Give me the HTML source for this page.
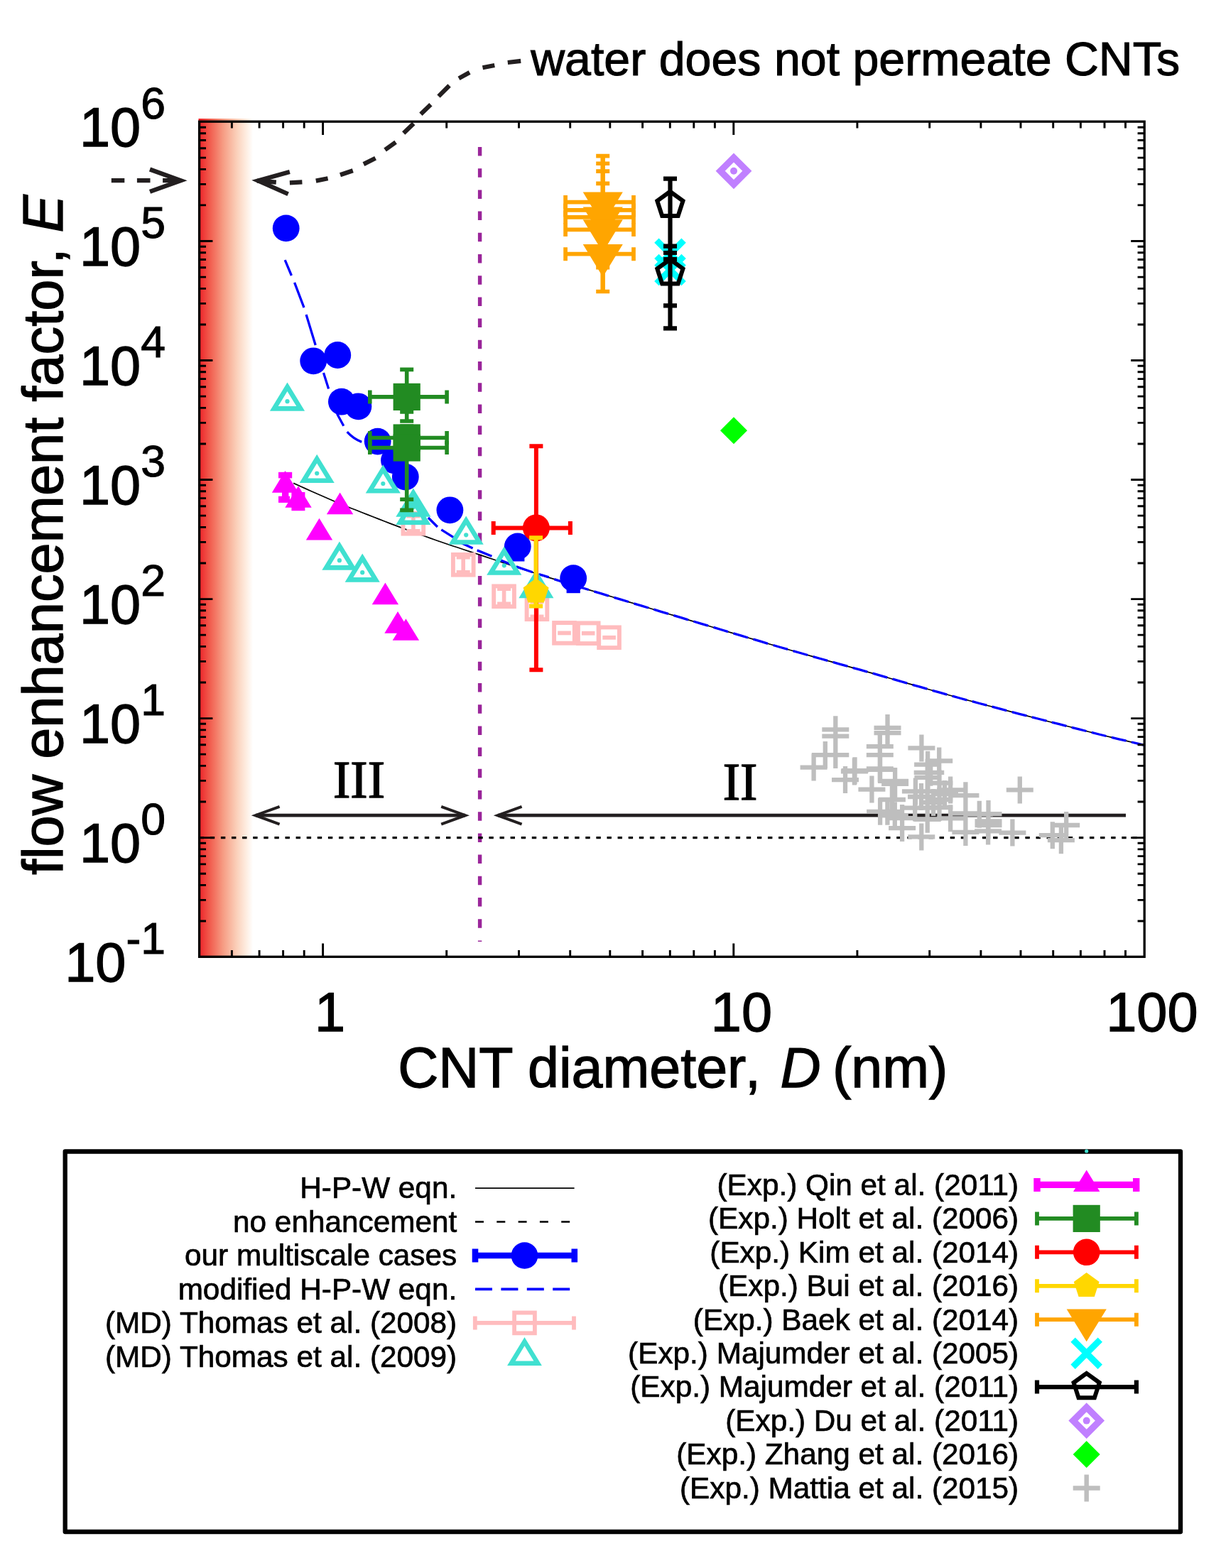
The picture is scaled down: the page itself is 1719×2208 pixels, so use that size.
<!DOCTYPE html>
<html lang="en">
<head>
<meta charset="utf-8">
<title>Flow enhancement factor vs CNT diameter</title>
<style>
html,body{margin:0;padding:0;background:#fff;}
body{width:1719px;height:2208px;overflow:hidden;}
svg{display:block;}
.sans{font-family:"Liberation Sans",sans-serif;}
.serif{font-family:"Liberation Serif",serif;}
</style>
</head>
<body>
<svg width="1719" height="2208" viewBox="0 0 1719 2208">
<defs>
<linearGradient id="rg" x1="0" y1="0" x2="1" y2="0"><stop offset="0" stop-color="#ed1f27"/><stop offset="0.2" stop-color="#f15a4c"/><stop offset="0.45" stop-color="#f69c83"/><stop offset="0.7" stop-color="#fbd0ba"/><stop offset="0.88" stop-color="#feeee2"/><stop offset="1" stop-color="#ffffff"/></linearGradient>
</defs>
<rect x="0" y="0" width="1719" height="2208" fill="#ffffff"/>
<rect x="279.5" y="167" width="76.7" height="1181.3" fill="url(#rg)"/>
<g id="regions">
<line x1="360" y1="1148.2" x2="655" y2="1148.2" stroke="#231f20" stroke-width="4.8"/>
<path d="M393.6 1135.8 L359.6 1148.2 L393.6 1160.7" fill="none" stroke="#231f20" stroke-width="4" stroke-linejoin="miter" stroke-miterlimit="10"/>
<path d="M621.2 1135.8 L655.2 1148.2 L621.2 1160.7" fill="none" stroke="#231f20" stroke-width="4" stroke-linejoin="miter" stroke-miterlimit="10"/>
<line x1="701" y1="1148.2" x2="1585" y2="1148.2" stroke="#231f20" stroke-width="4.8"/>
<path d="M734.6 1135.8 L700.6 1148.2 L734.6 1160.7" fill="none" stroke="#231f20" stroke-width="4" stroke-linejoin="miter" stroke-miterlimit="10"/>
<text x="505.5" y="1122.6" text-anchor="middle" class="serif" font-size="73" fill="#000" stroke="#000" stroke-width="1.3">III</text>
<text x="1042" y="1125.7" text-anchor="middle" class="serif" font-size="73" fill="#000" stroke="#000" stroke-width="1.3">II</text>
</g>
<line x1="675.6" y1="207" x2="675.6" y2="1326" stroke="#9a259a" stroke-width="5.4" stroke-dasharray="12.5 17.7"/>
<polyline points="413.2,680.4 421.2,684 429.2,687.6 437.2,691.2 445.2,694.8 453.2,698.3 461.2,701.8 469.2,705.3 477.2,708.7 485.2,711.9 493.2,715.2 501.2,718.3 509.2,721.5 517.2,724.6 525.2,727.8 533.2,730.9 541.2,734 549.2,737.1 557.2,740.1 565.2,743.1 573.2,746.1 581.2,749 589.2,751.9 597.2,754.7 605.2,757.6 613.2,760.5 621.2,763.3 629.2,766 637.2,768.7 645.2,771.3 653.2,774 661.2,776.6 669.2,779.3 677.2,781.9 685.2,784.6 693.2,787.3 701.2,790 709.2,792.7 717.2,795.3 725.2,798 733.2,800.6 741.2,803.2 749.2,805.8 757.2,808.4 765.2,810.9 773.2,813.4 781.2,815.9 789.2,818.4 797.2,820.8 805.2,823.3 813.2,825.7 821.2,828.2 829.2,830.6 837.2,833 845.2,835.5 853.2,837.9 861.2,840.3 869.2,842.8 877.2,845.2 885.2,847.6 893.2,850 901.2,852.4 909.2,854.8 917.2,857.3 925.2,859.7 933.2,862.1 941.2,864.5 949.2,866.9 957.2,869.3 965.2,871.7 973.2,874.1 981.2,876.5 989.2,878.9 997.2,881.3 1005.2,883.7 1013.2,886.1 1021.2,888.5 1029.2,890.9 1037.2,893.3 1045.2,895.6 1053.2,898 1061.2,900.4 1069.2,902.8 1077.2,905.1 1085.2,907.5 1093.2,909.8 1101.2,912.1 1109.2,914.5 1117.2,916.8 1125.2,919.1 1133.2,921.3 1141.2,923.6 1149.2,925.9 1157.2,928.1 1165.2,930.4 1173.2,932.6 1181.2,934.9 1189.2,937.1 1197.2,939.4 1205.2,941.6 1213.2,943.9 1221.2,946.1 1229.2,948.4 1237.2,950.6 1245.2,952.9 1253.2,955.2 1261.2,957.5 1269.2,959.8 1277.2,962.1 1285.2,964.4 1293.2,966.7 1301.2,969 1309.2,971.3 1317.2,973.5 1325.2,975.8 1333.2,978 1341.2,980.3 1349.2,982.5 1357.2,984.6 1365.2,986.8 1373.2,988.9 1381.2,991.1 1389.2,993.2 1397.2,995.3 1405.2,997.4 1413.2,999.5 1421.2,1001.6 1429.2,1003.7 1437.2,1005.8 1445.2,1007.9 1453.2,1010 1461.2,1012 1469.2,1014.1 1477.2,1016.2 1485.2,1018.2 1493.2,1020.3 1501.2,1022.3 1509.2,1024.3 1517.2,1026.4 1525.2,1028.4 1533.2,1030.5 1541.2,1032.5 1549.2,1034.5 1557.2,1036.5 1565.2,1038.4 1573.2,1040.3 1581.2,1042.2 1589.2,1044.1 1597.2,1046 1605.2,1047.9 1611,1049.3" fill="none" stroke="#000" stroke-width="1.7"/>
<line x1="280.6" y1="1179.6" x2="1611" y2="1179.6" stroke="#000" stroke-width="3.2" stroke-dasharray="6.4 8.7" stroke-dashoffset="-0.1"/>
<g id="multiscale" fill="#0000ff">
<circle cx="402.7" cy="321.4" r="18.9"/>
<circle cx="441.2" cy="508.3" r="18.9"/>
<circle cx="475.3" cy="500" r="18.9"/>
<circle cx="480.9" cy="565.7" r="18.9"/>
<circle cx="504.4" cy="572.3" r="18.9"/>
<circle cx="531.7" cy="621.6" r="18.9"/>
<circle cx="555" cy="648.3" r="18.9"/>
<circle cx="570.8" cy="671.6" r="18.9"/>
<circle cx="633.4" cy="718.3" r="18.9"/>
<rect x="719.2" y="781.9" width="19.2" height="8.6" />
<circle cx="728.8" cy="769.5" r="18.9"/>
<rect x="797.6" y="826.6" width="19.2" height="8.6" />
<circle cx="807.2" cy="814.2" r="18.9"/>
</g>
<path d="M401.2 366.1 L410.4 388 M414.6 397.9 L428 433.2 M431.1 443.1 L444.2 486.1 M455.5 525 L462.6 547.5 M474.6 582.8 L483.8 599.8 M488.7 608.2 Q497.5 618 509.2 622.4" fill="none" stroke="#0000ff" stroke-width="3.3"/>
<path d="M602.9 729L615.9 742M621.3 745.9L639.6 757.3M650.3 765L665.6 771.9M671.7 774.9L692.4 783.3M702.3 787.9L717.6 794M726.8 797.9L749.7 805.7M758.9 808.6L772.7 812.9M780.3 815.6L790.6 818.8L800.9 822M808.3 824.2L818.6 827.4L828.9 830.5M836.3 832.8L846.6 835.9L856.9 839.1M864.4 841.3L874.7 844.4L885 847.5M892.4 849.8L902.7 852.9L913 856M920.4 858.2L930.7 861.3L941 864.4M948.4 866.6L958.7 869.7L969 872.8M976.4 875L986.7 878.1L997 881.2M1004.5 883.4L1014.8 886.5L1025.1 889.6M1032.5 891.8L1042.8 894.9L1053.1 898M1060.5 900.2L1070.8 903.2L1081.1 906.3M1088.5 908.5L1098.8 911.5L1109.1 914.4M1116.5 916.6L1126.8 919.5L1137.1 922.5M1144.6 924.6L1154.9 927.5L1165.2 930.4M1172.6 932.4L1182.9 935.3L1193.2 938.2M1200.6 940.3L1210.9 943.2L1221.2 946.1M1228.6 948.2L1238.9 951.1L1249.2 954.1M1256.6 956.2L1266.9 959.2L1277.2 962.1M1284.7 964.3L1295 967.2L1305.3 970.2M1312.7 972.3L1323 975.2L1333.3 978.1M1340.7 980.1L1351 983L1361.3 985.8M1368.7 987.7L1379 990.5L1389.3 993.2M1396.7 995.2L1407 997.9L1417.3 1000.6M1424.8 1002.6L1435.1 1005.3L1445.4 1007.9M1452.8 1009.9L1463.1 1012.5L1473.4 1015.2M1480.8 1017.1L1491.1 1019.7L1501.4 1022.4M1508.8 1024.3L1519.1 1026.9L1529.4 1029.5M1536.8 1031.4L1547.1 1034L1557.4 1036.5M1564.9 1038.3L1575.2 1040.8L1585.5 1043.2M1592.9 1045L1601.9 1047.1L1611 1049.3" fill="none" stroke="#0000ff" stroke-width="3.3"/>
<g id="thomas2008" stroke="#ffbcbe" fill="none" stroke-width="5.9">
<path d="M581.9 726.7 V747.7 M572.4 726.7 H591.4 M572.4 747.7 H591.4" stroke-width="5.6"/>
<rect x="567.5" y="722.9" width="28.7" height="28.7"/>
<path d="M652.2 784.7 V805.7 M642.7 784.7 H661.7 M642.7 805.7 H661.7" stroke-width="5.6"/>
<rect x="637.9" y="780.9" width="28.7" height="28.7"/>
<path d="M709.6 829.2 V850.2 M700.1 829.2 H719.1 M700.1 850.2 H719.1" stroke-width="5.6"/>
<rect x="695.2" y="825.4" width="28.7" height="28.7"/>
<path d="M756 847.3 V868.3 M746.5 847.3 H765.5 M746.5 868.3 H765.5" stroke-width="5.6"/>
<rect x="741.6" y="843.4" width="28.7" height="28.7"/>
<path d="M785.2 891.4 H803.8" stroke-width="5.8"/>
<rect x="780.1" y="877" width="28.7" height="28.7"/>
<path d="M818.9 891.7 H837.5" stroke-width="5.8"/>
<rect x="813.9" y="877.4" width="28.7" height="28.7"/>
<path d="M848.3 897.8 H866.9" stroke-width="5.8"/>
<rect x="843.2" y="883.4" width="28.7" height="28.7"/>
</g>
<g id="thomas2009" stroke="#40e0d0" fill="none" stroke-width="6.6" stroke-linejoin="miter">
<polygon points="404.5,544.8 423.2,575.4 385.8,575.4"/>
<circle cx="404.5" cy="565.2" r="3.1" fill="#40e0d0" stroke="none"/>
<polygon points="446.2,646.1 464.9,676.7 427.5,676.7"/>
<circle cx="446.2" cy="666.5" r="3.1" fill="#40e0d0" stroke="none"/>
<polygon points="539.3,660.6 558,691.2 520.6,691.2"/>
<circle cx="539.3" cy="681" r="3.1" fill="#40e0d0" stroke="none"/>
<polygon points="581.9,693.9 600.6,724.5 563.2,724.5"/>
<circle cx="581.9" cy="714.3" r="3.1" fill="#40e0d0" stroke="none"/>
<polygon points="581.9,705.2 600.6,735.8 563.2,735.8"/>
<circle cx="581.9" cy="725.6" r="3.1" fill="#40e0d0" stroke="none"/>
<polygon points="656.2,732.9 674.9,763.5 637.5,763.5"/>
<circle cx="656.2" cy="753.3" r="3.1" fill="#40e0d0" stroke="none"/>
<polygon points="477.9,768.8 496.6,799.4 459.2,799.4"/>
<circle cx="477.9" cy="789.2" r="3.1" fill="#40e0d0" stroke="none"/>
<polygon points="510.2,785.8 528.9,816.4 491.5,816.4"/>
<circle cx="510.2" cy="806.2" r="3.1" fill="#40e0d0" stroke="none"/>
<polygon points="709.8,775.9 728.5,806.5 691.1,806.5"/>
<circle cx="709.8" cy="796.3" r="3.1" fill="#40e0d0" stroke="none"/>
<polygon points="754.9,808.3 773.6,838.9 736.2,838.9"/>
<circle cx="754.9" cy="828.7" r="3.1" fill="#40e0d0" stroke="none"/>
</g>
<g id="qin" fill="#ff00ff">
<rect x="392" y="664.8" width="19.2" height="8.6"/>
<rect x="397" y="669" width="9.4" height="34"/>
<rect x="392" y="698.7" width="16" height="9.2"/>
<rect x="410.4" y="693" width="19" height="9.2"/>
<rect x="415.2" y="697" width="9.4" height="18"/>
<rect x="410.4" y="710" width="19" height="9.2"/>
<polygon points="401.5,663.1 420.2,693.7 382.8,693.7"/>
<polygon points="420,684.2 438.7,714.8 401.3,714.8"/>
<polygon points="478.6,693.6 497.3,724.2 459.9,724.2"/>
<polygon points="449.5,729.8 468.2,760.4 430.8,760.4"/>
<polygon points="542.4,820.6 561.1,851.2 523.7,851.2"/>
<polygon points="560,861.1 578.7,891.7 541.3,891.7"/>
<polygon points="571.4,871.2 590.1,901.8 552.7,901.8"/>
</g>
<g id="holt">
<path d="M520.8 558.9 H629.1 M520.8 549.4 V568.4 M629.1 549.4 V568.4" stroke="#228b22" stroke-width="5.6" fill="none"/>
<path d="M520.8 616.5 H629.1 M520.8 607 V626 M629.1 607 V626" stroke="#228b22" stroke-width="5.6" fill="none"/>
<path d="M520.8 630.5 H629.1 M520.8 621 V640 M629.1 621 V640" stroke="#228b22" stroke-width="5.6" fill="none"/>
<path d="M572.7 520.4 V593 M563.2 520.4 H582.2 M563.2 593 H582.2 M563.2 580 H582.2" stroke="#228b22" stroke-width="5.6" fill="none"/>
<path d="M572.7 600 V718.4 M563.2 600 H582.2 M563.2 718.4 H582.2 M563.2 703.2 H582.2" stroke="#228b22" stroke-width="5.6" fill="none"/>
<rect x="553.6" y="539.8" width="38.2" height="38.2" fill="#228b22"/>
<rect x="553.6" y="597.4" width="38.2" height="38.2" fill="#228b22"/>
<rect x="553.6" y="611.4" width="38.2" height="38.2" fill="#228b22"/>
</g>
<g id="kim">
<path d="M694.7 743.4 H802.9 M694.7 733.9 V752.9 M802.9 733.9 V752.9" stroke="#ff0000" stroke-width="6" fill="none"/>
<path d="M754.9 628.3 V943.3 M745.4 628.3 H764.4 M745.4 943.3 H764.4" stroke="#ff0000" stroke-width="6" fill="none"/>
<circle cx="754.9" cy="743.4" r="19" fill="#ff0000"/>
</g>
<g id="bui">
<polygon points="754.6,814.3 772.6,827.4 765.7,848.5 743.5,848.5 736.6,827.4" fill="#ffd700"/>
<path d="M754.6 757.3 V853.5 M745.1 757.3 H764.1 M745.1 853.5 H764.1" stroke="#ffd700" stroke-width="6" fill="none"/>
</g>
<g id="baek">
<path d="M796.1 284.6 H892 M796.1 275.1 V294.1 M892 275.1 V294.1" stroke="#ffa500" stroke-width="5.7" fill="none"/>
<path d="M796.1 295.9 H892 M796.1 286.4 V305.4 M892 286.4 V305.4" stroke="#ffa500" stroke-width="5.7" fill="none"/>
<path d="M796.1 305.9 H892 M796.1 296.4 V315.4 M892 296.4 V315.4" stroke="#ffa500" stroke-width="5.7" fill="none"/>
<path d="M796.1 323.4 H892 M796.1 313.9 V332.9 M892 313.9 V332.9" stroke="#ffa500" stroke-width="5.7" fill="none"/>
<path d="M796.1 357.7 H892 M796.1 348.2 V367.2 M892 348.2 V367.2" stroke="#ffa500" stroke-width="5.7" fill="none"/>
<path d="M848.7 219.6 V410.5 M839.2 219.6 H858.2 M839.2 410.5 H858.2 M839.2 230.2 H858.2 M839.2 241.1 H858.2 M839.2 258.4 H858.2 M839.2 376.7 H858.2" stroke="#ffa500" stroke-width="5.6" fill="none"/>
<line x1="848.7" y1="219.6" x2="848.7" y2="410.5" stroke="#ffa500" stroke-width="6.4"/>
<polygon points="830,285.7 867.4,285.7 848.7,316.3" fill="#ffa500"/>
<polygon points="820.7,270.5 876.8,270.5 848.7,316.4" fill="#ffa500"/>
<polygon points="820.7,291.6 876.8,291.6 848.7,337.5" fill="#ffa500"/>
<polygon points="820.7,309.3 876.8,309.3 848.7,355.2" fill="#ffa500"/>
<polygon points="820.7,344 876.8,344 848.7,389.9" fill="#ffa500"/>
</g>
<g id="maj2005" stroke="#00ffff" stroke-width="9" fill="none">
<path d="M924.4 338.6 L962.6 376.8 M924.4 376.8 L962.6 338.6"/>
<path d="M924.4 360.9 L962.6 399.1 M924.4 399.1 L962.6 360.9"/>
</g>
<g id="maj2011">
<path d="M943.5 251.6 V462.4 M934 251.6 H953 M934 462.4 H953 M934 346.6 H953 M934 356 H953 M934 365 H953 M934 430.4 H953" stroke="#000" stroke-width="6.2" fill="none"/>
<polygon points="943.4,269.7 961.5,282.8 954.6,304.1 932.2,304.1 925.3,282.8" fill="none" stroke="#000" stroke-width="6" stroke-linejoin="miter"/>
<polygon points="943.4,365.2 961.5,378.3 954.6,399.6 932.2,399.6 925.3,378.3" fill="none" stroke="#000" stroke-width="6" stroke-linejoin="miter"/>
</g>
<g id="du">
<polygon points="1033,222 1051.8,240.8 1033,259.6 1014.2,240.8" fill="none" stroke="#c080ff" stroke-width="9.3"/>
<circle cx="1033" cy="240.8" r="5" fill="#c080ff"/>
</g>
<polygon id="zhang" points="1033,587.3 1052,606.3 1033,625.3 1014,606.3" fill="#00ff00"/>
<g id="mattia" stroke="#bebebe" stroke-width="6.3" fill="none">
<path d="M1157.3 1027.3h38M1176.3 1008.3v38M1157.3 1036.6h38M1176.3 1017.6v38M1142.8 1063.1h38M1161.8 1044.1v38M1157.3 1063.1h38M1176.3 1044.1v38M1126.6 1080.6h38M1145.6 1061.6v38M1230.5 1024.9h38M1249.5 1005.9v38M1230.5 1032.1h38M1249.5 1013.1v38M1219.8 1051.1h38M1238.8 1032.1v38M1219.8 1063.1h38M1238.8 1044.1v38M1219.8 1082.5h38M1238.8 1063.5v38M1183.9 1086.4h38M1202.9 1067.4v38M1184.5 1085.2h38M1203.5 1066.2v38M1171 1098.1h38M1190 1079.1v38M1208.4 1111.6h38M1227.4 1092.6v38M1241.1 1100h38M1260.1 1081v38M1241.1 1103.9h38M1260.1 1084.9v38M1278.4 1053.4h38M1297.4 1034.4v38M1287.1 1076.7h38M1306.1 1057.7v38M1303.2 1071.5h38M1322.2 1052.5v38M1416.8 1112.4h38M1435.8 1093.4v38M1406.4 1172.6h38M1425.4 1153.6v38M1372.5 1146.1h38M1391.5 1127.1v38M1359.8 1146.7h38M1378.8 1127.7v38M1372.1 1170.4h38M1391.1 1151.4v38M1372.5 1156.4h38M1391.5 1137.4v38M1372.5 1162.2h38M1391.5 1143.2v38M1340.4 1120.2h38M1359.4 1101.2v38M1340.4 1171.9h38M1359.4 1152.9v38M1340.4 1145.4h38M1359.4 1126.4v38M1319.1 1112.4h38M1338.1 1093.4v38M1319.1 1152.3h38M1338.1 1133.3v38M1278.3 1178.4h38M1297.3 1159.4v38M1251.1 1166.1h38M1270.1 1147.1v38M1251.1 1152.1h38M1270.1 1133.1v38M1240.8 1148.4h38M1259.8 1129.4v38M1236.9 1126h38M1255.9 1107v38M1230.4 1142.8h38M1249.4 1123.8v38M1220.1 1083.9h38M1239.1 1064.9v38M1220.1 1142.8h38M1239.1 1123.8v38M1286.7 1087.8h38M1305.7 1068.8v38M1291.2 1087.8h38M1310.2 1068.8v38M1287.4 1094.9h38M1306.4 1075.9v38M1303.5 1102.7h38M1322.5 1083.7v38M1269.9 1114.4h38M1288.9 1095.4v38M1286.7 1114.4h38M1305.7 1095.4v38M1295.1 1129.9h38M1314.1 1110.9v38M1303.5 1126h38M1322.5 1107v38M1286.7 1137.6h38M1305.7 1118.6v38M1269.2 1137.6h38M1288.2 1118.6v38M1286.7 1153.8h38M1305.7 1134.8v38M1303.5 1137h38M1322.5 1118v38M1278 1122h38M1297 1103v38M1311 1118h38M1330 1099v38M1482.2 1162h38M1501.2 1143v38M1462.8 1176.2h38M1481.8 1157.2v38M1474.9 1183.2h38M1493.9 1164.2v38"/>
</g>
<g id="annot" fill="none" stroke="#231f20">
<path d="M733.2 85.9L714.8 88M696.3 92L679.5 95.3M661.1 102L646 110.4M632.6 120.5L617.5 135.6M606.4 147.3L592.4 160.7M582.3 174.1L568.2 187.6M557.1 200.3L542.1 211M528.6 222.8L511.9 231.1M496.8 240.2L479 246.2M461.6 251.3L444.8 254.6M425.4 256.3L407.9 257.3M388.8 256.7L362 254.6" stroke-width="6.2"/>
</g>
<path d="M406.9 238.1 L363.4 253.8 L406.9 269.5" fill="none" stroke="#231f20" stroke-width="6.2" stroke-linejoin="miter" stroke-miterlimit="10" transform="rotate(4.1 354.3 253.8)"/>
<path d="M156.8 254.1 H175.3 M192.9 254.1 H211.5 M229.1 254.1 H250" stroke="#231f20" stroke-width="6.2" fill="none"/>
<path d="M211 238.5 L254.5 254.2 L211 269.9" fill="none" stroke="#231f20" stroke-width="6.2" stroke-linejoin="miter" stroke-miterlimit="10"/>
<g id="axes" stroke="#000" fill="none">
<path d="M326.4 171.2v9.4M326.4 1347.3v-9.4M365.1 171.2v9.4M365.1 1347.3v-9.4M398.6 171.2v9.4M398.6 1347.3v-9.4M428.2 171.2v9.4M428.2 1347.3v-9.4M454.6 171.2v18.8M454.6 1347.3v-18.8M628.7 171.2v9.4M628.7 1347.3v-9.4M730.5 171.2v9.4M730.5 1347.3v-9.4M802.7 171.2v9.4M802.7 1347.3v-9.4M858.8 171.2v9.4M858.8 1347.3v-9.4M904.6 171.2v9.4M904.6 1347.3v-9.4M943.3 171.2v9.4M943.3 1347.3v-9.4M976.8 171.2v9.4M976.8 1347.3v-9.4M1006.4 171.2v9.4M1006.4 1347.3v-9.4M1032.8 171.2v18.8M1032.8 1347.3v-18.8M1206.9 171.2v9.4M1206.9 1347.3v-9.4M1308.7 171.2v9.4M1308.7 1347.3v-9.4M1380.9 171.2v9.4M1380.9 1347.3v-9.4M1437 171.2v9.4M1437 1347.3v-9.4M1482.7 171.2v9.4M1482.7 1347.3v-9.4M1521.4 171.2v9.4M1521.4 1347.3v-9.4M1555 171.2v9.4M1555 1347.3v-9.4M1584.5 171.2v9.4M1584.5 1347.3v-9.4M280.6 1297h9.4M1611 1297h-9.4M280.6 1267.4h9.4M1611 1267.4h-9.4M280.6 1246.4h9.4M1611 1246.4h-9.4M280.6 1230.2h9.4M1611 1230.2h-9.4M280.6 1216.9h9.4M1611 1216.9h-9.4M280.6 1205.6h9.4M1611 1205.6h-9.4M280.6 1195.9h9.4M1611 1195.9h-9.4M280.6 1187.3h9.4M1611 1187.3h-9.4M280.6 1179.6h18.8M1611 1179.6h-18.8M280.6 1129h9.4M1611 1129h-9.4M280.6 1099.4h9.4M1611 1099.4h-9.4M280.6 1078.4h9.4M1611 1078.4h-9.4M280.6 1062.1h9.4M1611 1062.1h-9.4M280.6 1048.8h9.4M1611 1048.8h-9.4M280.6 1037.6h9.4M1611 1037.6h-9.4M280.6 1027.9h9.4M1611 1027.9h-9.4M280.6 1019.3h9.4M1611 1019.3h-9.4M280.6 1011.6h18.8M1611 1011.6h-18.8M280.6 961h9.4M1611 961h-9.4M280.6 931.4h9.4M1611 931.4h-9.4M280.6 910.4h9.4M1611 910.4h-9.4M280.6 894.1h9.4M1611 894.1h-9.4M280.6 880.8h9.4M1611 880.8h-9.4M280.6 869.6h9.4M1611 869.6h-9.4M280.6 859.8h9.4M1611 859.8h-9.4M280.6 851.2h9.4M1611 851.2h-9.4M280.6 843.6h18.8M1611 843.6h-18.8M280.6 793h9.4M1611 793h-9.4M280.6 763.4h9.4M1611 763.4h-9.4M280.6 742.4h9.4M1611 742.4h-9.4M280.6 726.1h9.4M1611 726.1h-9.4M280.6 712.8h9.4M1611 712.8h-9.4M280.6 701.6h9.4M1611 701.6h-9.4M280.6 691.8h9.4M1611 691.8h-9.4M280.6 683.2h9.4M1611 683.2h-9.4M280.6 675.5h18.8M1611 675.5h-18.8M280.6 625h9.4M1611 625h-9.4M280.6 595.4h9.4M1611 595.4h-9.4M280.6 574.4h9.4M1611 574.4h-9.4M280.6 558.1h9.4M1611 558.1h-9.4M280.6 544.8h9.4M1611 544.8h-9.4M280.6 533.6h9.4M1611 533.6h-9.4M280.6 523.8h9.4M1611 523.8h-9.4M280.6 515.2h9.4M1611 515.2h-9.4M280.6 507.5h18.8M1611 507.5h-18.8M280.6 457h9.4M1611 457h-9.4M280.6 427.4h9.4M1611 427.4h-9.4M280.6 406.4h9.4M1611 406.4h-9.4M280.6 390.1h9.4M1611 390.1h-9.4M280.6 376.8h9.4M1611 376.8h-9.4M280.6 365.5h9.4M1611 365.5h-9.4M280.6 355.8h9.4M1611 355.8h-9.4M280.6 347.2h9.4M1611 347.2h-9.4M280.6 339.5h18.8M1611 339.5h-18.8M280.6 288.9h9.4M1611 288.9h-9.4M280.6 259.4h9.4M1611 259.4h-9.4M280.6 238.4h9.4M1611 238.4h-9.4M280.6 222.1h9.4M1611 222.1h-9.4M280.6 208.8h9.4M1611 208.8h-9.4M280.6 197.5h9.4M1611 197.5h-9.4M280.6 187.8h9.4M1611 187.8h-9.4M280.6 179.2h9.4M1611 179.2h-9.4" stroke-width="2.9"/>
<rect x="280.6" y="171.2" width="1330.6" height="1176.1" stroke-width="3.3"/>
</g>
<g id="ticklabels" class="sans" font-size="77.5" fill="#000" stroke="#000" stroke-width="1.3">
<text x="233" y="205.7" text-anchor="end">10<tspan font-size="62.5" dy="-39.2" stroke-width="1.05">6</tspan></text>
<text x="233" y="373.7" text-anchor="end">10<tspan font-size="62.5" dy="-39.2" stroke-width="1.05">5</tspan></text>
<text x="233" y="541.7" text-anchor="end">10<tspan font-size="62.5" dy="-39.2" stroke-width="1.05">4</tspan></text>
<text x="233" y="709.7" text-anchor="end">10<tspan font-size="62.5" dy="-39.2" stroke-width="1.05">3</tspan></text>
<text x="233" y="877.8" text-anchor="end">10<tspan font-size="62.5" dy="-39.2" stroke-width="1.05">2</tspan></text>
<text x="233" y="1045.8" text-anchor="end">10<tspan font-size="62.5" dy="-39.2" stroke-width="1.05">1</tspan></text>
<text x="233" y="1213.8" text-anchor="end">10<tspan font-size="62.5" dy="-39.2" stroke-width="1.05">0</tspan></text>
<text x="233" y="1381.8" text-anchor="end">10<tspan font-size="62.5" dy="-39.2" stroke-width="1.05">-1</tspan></text>
<text x="443" y="1452.4">1</text>
<text x="1000.8" y="1452.4">10</text>
<text x="1557.2" y="1452.4">100</text>
</g>
<g id="labels" class="sans" fill="#000" stroke="#000" stroke-width="1.3">
<text x="560.2" y="1531.2" font-size="79">CNT diameter<tspan dx="3">, </tspan><tspan font-style="italic" dx="5.5">D</tspan><tspan dx="-5.5"> (nm)</tspan></text>
<text transform="translate(88.2 1232.1) rotate(-90)" font-size="79.4">flow enhancement factor, <tspan font-style="italic">E</tspan></text>
<text x="747.2" y="105.9" font-size="66.3" stroke-width="1.1">water does not permeate CNTs</text>
</g>
<g id="legend">
<rect x="91.7" y="1621.5" width="1570.3" height="535.5" fill="none" stroke="#000" stroke-width="6.3" stroke-linejoin="round"/>
<circle cx="1529.7" cy="1621" r="2.6" fill="#40e0d0"/>
<g class="sans" font-size="42.3" fill="#000" stroke="#000" stroke-width="0.7" text-anchor="end">
<text x="643.2" y="1687.3">H-P-W eqn.</text>
<text x="643.2" y="1734.8">no enhancement</text>
<text x="643.2" y="1782.2">our multiscale cases</text>
<text x="643.2" y="1829.6">modified H-P-W eqn.</text>
<text x="643.2" y="1877.1">(MD) Thomas et al. (2008)</text>
<text x="643.2" y="1924.5">(MD) Thomas et al. (2009)</text>
<text x="1434.2" y="1682.7">(Exp.) Qin et al. (2011)</text>
<text x="1434.2" y="1730.2">(Exp.) Holt et al. (2006)</text>
<text x="1434.2" y="1777.6">(Exp.) Kim et al. (2014)</text>
<text x="1434.2" y="1825">(Exp.) Bui et al. (2016)</text>
<text x="1434.2" y="1872.5">(Exp.) Baek et al. (2014)</text>
<text x="1434.2" y="1920">(Exp.) Majumder et al. (2005)</text>
<text x="1434.2" y="1967.4">(Exp.) Majumder et al. (2011)</text>
<text x="1434.2" y="2014.9">(Exp.) Du et al. (2011)</text>
<text x="1434.2" y="2062.3">(Exp.) Zhang et al. (2016)</text>
<text x="1434.2" y="2109.8">(Exp.) Mattia et al. (2015)</text>
</g>
<line x1="669" y1="1673.1" x2="808.6" y2="1673.1" stroke="#000" stroke-width="1.8"/>
<line x1="669" y1="1720.5" x2="803" y2="1720.5" stroke="#000" stroke-width="2.6" stroke-dasharray="12 18.3"/>
<path d="M669 1768 H808.8 M669 1758.5 V1777.5 M808.8 1758.5 V1777.5" stroke="#0000ff" stroke-width="8.6" fill="none"/>
<circle cx="738.5" cy="1768" r="18.8" fill="#0000ff"/>
<line x1="669" y1="1815.4" x2="803" y2="1815.4" stroke="#0000ff" stroke-width="3.6" stroke-dasharray="24 12.4"/>
<path d="M668.8 1862.9 H808 M668.8 1853.4 V1872.4 M808 1853.4 V1872.4" stroke="#ffbcbe" stroke-width="5.8" fill="none"/>
<rect x="724.1" y="1848.5" width="28.8" height="28.8" fill="none" stroke="#ffbcbe" stroke-width="5.8"/>
<polygon points="738.5,1889.1 757.2,1919.8 719.8,1919.8" fill="none" stroke="#40e0d0" stroke-width="6.4"/>
<path d="M1460 1668.4 H1599.7 M1460 1658.9 V1677.9 M1599.7 1658.9 V1677.9" stroke="#ff00ff" stroke-width="9.4" fill="none"/>
<polygon points="1529.7,1647.5 1548.4,1678.1 1511,1678.1" fill="#ff00ff"/>
<path d="M1460 1715.9 H1599.9 M1460 1706.4 V1725.4 M1599.9 1706.4 V1725.4" stroke="#228b22" stroke-width="5.8" fill="none"/>
<rect x="1510.6" y="1696.8" width="38.2" height="38.2" fill="#228b22"/>
<path d="M1460 1763.3 H1599.9 M1460 1753.8 V1772.8 M1599.9 1753.8 V1772.8" stroke="#ff0000" stroke-width="5.8" fill="none"/>
<circle cx="1529.7" cy="1763.3" r="18.8" fill="#ff0000"/>
<path d="M1460 1810.8 H1599.9 M1460 1801.2 V1820.2 M1599.9 1801.2 V1820.2" stroke="#ffd700" stroke-width="5.8" fill="none"/>
<polygon points="1529.7,1792 1547.6,1804.9 1540.8,1826 1518.6,1826 1511.8,1804.9" fill="#ffd700"/>
<path d="M1460 1858.2 H1599.9 M1460 1848.7 V1867.7 M1599.9 1848.7 V1867.7" stroke="#ffa500" stroke-width="5.8" fill="none"/>
<polygon points="1501.7,1843.4 1557.8,1843.4 1529.7,1889.3" fill="#ffa500"/>
<path d="M1510.6 1886.6 L1548.8 1924.8 M1510.6 1924.8 L1548.8 1886.6" stroke="#00ffff" stroke-width="9" fill="none"/>
<path d="M1460 1953.1 H1599.9 M1460 1943.6 V1962.6 M1599.9 1943.6 V1962.6" stroke="#000" stroke-width="6.2" fill="none"/>
<polygon points="1529.7,1933.9 1547.8,1947 1540.9,1968.3 1518.5,1968.3 1511.6,1947" fill="none" stroke="#000" stroke-width="6"/>
<polygon points="1529.7,1981.8 1548.5,2000.6 1529.7,2019.4 1510.9,2000.6" fill="none" stroke="#c080ff" stroke-width="9.3"/>
<circle cx="1529.7" cy="2000.6" r="5" fill="#c080ff"/>
<polygon points="1529.7,2029 1548.7,2048 1529.7,2067 1510.7,2048" fill="#00ff00"/>
<path d="M1510.7 2095.5h38M1529.7 2076.5v38" stroke="#bebebe" stroke-width="6.4" fill="none"/>
</g>
</svg>
</body>
</html>
